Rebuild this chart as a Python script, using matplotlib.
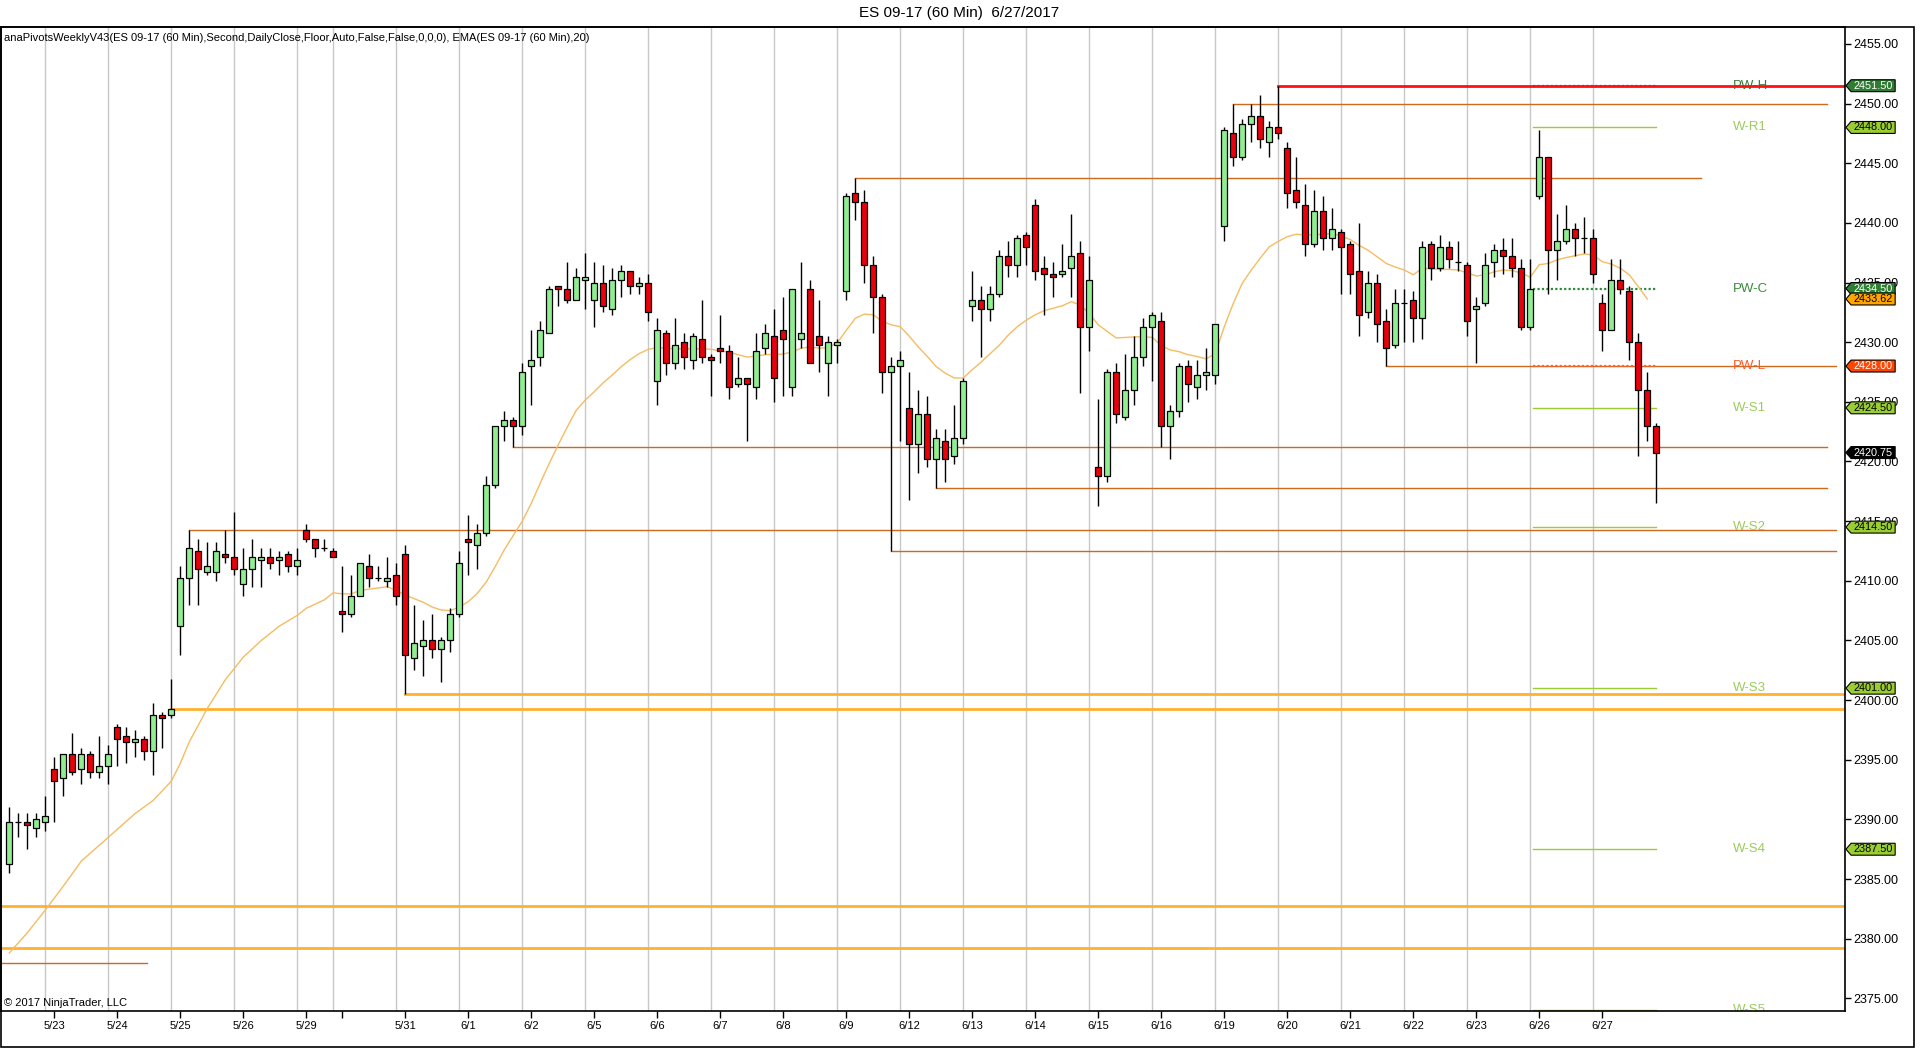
import matplotlib
matplotlib.use('Agg')
import matplotlib.pyplot as plt
from matplotlib.patches import Polygon, Rectangle
from matplotlib.transforms import blended_transform_factory

plt.rcParams['font.family'] = ['Liberation Sans', 'DejaVu Sans']

# ---- 60 min bars, ES 09-17 (bar index = position on the chart) ----
opens = [2386.25, 2389.75, 2389.75, 2389.25, 2389.75, 2394.25, 2393.5, 2395.5, 2394.25, 2395.5,
         2394.0, 2394.5, 2397.75, 2397.0, 2396.5, 2396.75, 2395.75, 2398.75, 2398.75, 2406.25,
         2410.25, 2412.5, 2410.75, 2410.75, 2412.25, 2412.0, 2409.75, 2411.0, 2411.75, 2412.0,
         2411.75, 2412.25, 2411.25, 2414.25, 2413.5, 2412.75, 2412.5, 2407.5, 2407.25, 2408.75,
         2411.25, 2410.25, 2410.0, 2410.5, 2412.25, 2403.5, 2404.5, 2405.0, 2404.25, 2405.0,
         2407.25, 2413.5, 2413.0, 2414.0, 2418.0, 2423.0, 2423.5, 2423.0, 2428.0, 2428.75,
         2430.75, 2434.75, 2434.5, 2433.5, 2435.25, 2433.5, 2435.0, 2432.75, 2435.25, 2436.0,
         2434.75, 2435.0, 2426.75, 2430.75, 2428.25, 2430.0, 2428.5, 2430.25, 2428.75, 2429.5,
         2429.25, 2426.5, 2427.0, 2426.25, 2429.5, 2430.5, 2431.0, 2426.25, 2430.25, 2434.5,
         2430.5, 2428.25, 2429.75, 2434.25, 2442.5, 2441.75, 2436.5, 2433.75, 2427.5, 2428.0,
         2424.5, 2421.5, 2424.0, 2420.25, 2421.75, 2420.5, 2422.0, 2433.0, 2433.5, 2432.75,
         2434.0, 2437.25, 2436.5, 2439.0, 2441.5, 2436.25, 2435.75, 2435.75, 2436.25, 2437.5,
         2431.25, 2419.5, 2418.75, 2427.5, 2423.75, 2426.0, 2428.75, 2431.25, 2431.75, 2423.0,
         2424.25, 2428.0, 2426.25, 2427.25, 2427.25, 2439.75, 2447.5, 2445.5, 2448.25, 2449.0,
         2446.75, 2448.0, 2446.25, 2442.75, 2441.5, 2438.25, 2441.0, 2438.75, 2439.25, 2438.25,
         2436.0, 2432.5, 2435.0, 2431.75, 2429.75, 2433.25, 2433.5, 2432.0, 2438.25, 2436.25,
         2438.0, 2436.75, 2436.5, 2432.75, 2433.25, 2436.75, 2437.75, 2437.25, 2436.25, 2431.25,
         2442.25, 2445.5, 2437.75, 2438.5, 2439.5, 2438.75, 2438.75, 2433.25, 2431.0, 2435.25,
         2434.25, 2430.0, 2426.0, 2423.0]
highs = [2391.0, 2390.5, 2390.5, 2390.5, 2392.0, 2395.25, 2395.5, 2397.25, 2396.0, 2395.75,
         2397.0, 2396.25, 2398.0, 2397.75, 2397.5, 2397.0, 2399.75, 2399.0, 2401.75, 2411.25,
         2414.25, 2413.5, 2413.25, 2413.25, 2414.25, 2415.75, 2412.75, 2413.5, 2412.75, 2412.75,
         2412.5, 2412.5, 2412.75, 2414.75, 2413.5, 2413.5, 2412.75, 2411.25, 2410.5, 2411.5,
         2412.25, 2411.25, 2412.0, 2411.5, 2413.0, 2408.0, 2406.75, 2407.25, 2405.25, 2407.75,
         2412.5, 2415.5, 2414.75, 2418.75, 2423.0, 2424.25, 2423.75, 2428.25, 2431.0, 2431.75,
         2434.75, 2434.75, 2436.75, 2436.25, 2437.5, 2436.75, 2436.5, 2436.25, 2436.5, 2436.0,
         2435.5, 2435.75, 2432.0, 2431.0, 2432.0, 2430.75, 2430.75, 2433.5, 2429.0, 2432.25,
         2429.75, 2428.75, 2427.0, 2430.75, 2431.5, 2432.75, 2433.75, 2432.25, 2436.75, 2435.25,
         2433.5, 2430.5, 2430.25, 2442.5, 2443.75, 2442.75, 2437.25, 2434.0, 2428.75, 2429.25,
         2427.5, 2426.0, 2425.5, 2422.75, 2422.75, 2424.75, 2427.0, 2436.0, 2434.75, 2434.75,
         2437.75, 2438.5, 2439.0, 2439.25, 2442.0, 2437.25, 2436.75, 2438.25, 2440.75, 2438.5,
         2437.25, 2425.25, 2427.75, 2428.25, 2429.0, 2430.5, 2432.0, 2432.5, 2432.5, 2424.75,
         2428.25, 2428.5, 2428.5, 2429.5, 2431.5, 2448.0, 2450.0, 2448.75, 2450.0, 2450.75,
         2448.5, 2451.5, 2446.75, 2445.5, 2443.25, 2442.75, 2442.25, 2441.25, 2439.5, 2438.5,
         2440.0, 2436.0, 2435.75, 2432.75, 2434.5, 2434.5, 2434.25, 2438.5, 2438.5, 2439.0,
         2438.5, 2438.5, 2436.75, 2433.75, 2437.5, 2438.25, 2438.75, 2438.75, 2437.0, 2437.0,
         2447.75, 2445.5, 2440.75, 2441.5, 2440.0, 2440.5, 2439.5, 2434.0, 2437.0, 2437.0,
         2434.75, 2430.75, 2427.5, 2423.25]
lows = [2385.5, 2388.5, 2387.5, 2388.5, 2389.0, 2389.75, 2392.0, 2393.75, 2393.0, 2393.5,
        2393.5, 2393.0, 2394.5, 2394.75, 2395.25, 2395.0, 2393.75, 2396.0, 2398.5, 2403.75,
        2408.0, 2408.0, 2410.5, 2410.0, 2411.5, 2410.5, 2408.75, 2409.5, 2409.5, 2411.0,
        2410.5, 2410.75, 2410.5, 2413.25, 2412.0, 2412.5, 2412.0, 2405.75, 2407.0, 2408.75,
        2409.5, 2410.0, 2409.5, 2408.0, 2400.5, 2402.5, 2402.0, 2403.5, 2401.5, 2404.0,
        2407.0, 2410.5, 2411.0, 2413.75, 2417.75, 2421.75, 2421.25, 2422.25, 2424.75, 2428.0,
        2430.75, 2433.0, 2433.25, 2433.5, 2432.75, 2431.25, 2432.5, 2432.25, 2433.75, 2434.0,
        2434.0, 2431.75, 2424.75, 2427.25, 2427.75, 2427.75, 2427.75, 2428.25, 2425.5, 2428.25,
        2425.25, 2426.25, 2421.75, 2425.25, 2429.0, 2425.0, 2425.5, 2425.5, 2429.5, 2429.5,
        2427.5, 2425.5, 2428.25, 2433.5, 2440.25, 2435.0, 2430.75, 2425.75, 2412.5, 2421.75,
        2416.75, 2419.0, 2419.5, 2417.75, 2418.25, 2419.75, 2421.5, 2431.75, 2428.75, 2431.75,
        2433.75, 2435.5, 2435.5, 2436.5, 2435.25, 2432.25, 2433.75, 2435.5, 2433.75, 2425.75,
        2429.25, 2416.25, 2418.25, 2423.25, 2423.5, 2424.75, 2428.0, 2426.75, 2421.25, 2420.25,
        2423.75, 2425.0, 2425.25, 2426.0, 2426.5, 2438.5, 2444.75, 2445.25, 2446.75, 2446.25,
        2445.5, 2447.0, 2441.25, 2441.25, 2437.25, 2438.0, 2437.75, 2437.75, 2434.0, 2434.0,
        2430.5, 2432.0, 2430.0, 2428.0, 2429.5, 2430.0, 2430.0, 2430.25, 2435.25, 2436.0,
        2436.25, 2436.0, 2430.5, 2428.25, 2433.0, 2435.5, 2435.75, 2435.5, 2431.0, 2431.0,
        2442.0, 2434.0, 2435.25, 2438.25, 2437.25, 2437.5, 2435.0, 2429.25, 2431.0, 2434.0,
        2428.5, 2420.5, 2421.75, 2416.5]
closes = [2389.75, 2389.75, 2389.5, 2390.0, 2390.25, 2393.25, 2395.5, 2394.0, 2395.5, 2394.0,
          2394.5, 2395.5, 2396.75, 2396.5, 2396.75, 2395.75, 2398.75, 2398.5, 2399.25, 2410.25,
          2412.75, 2411.0, 2411.25, 2412.5, 2412.0, 2411.0, 2411.0, 2412.0, 2412.0, 2411.5,
          2412.0, 2411.25, 2411.75, 2413.5, 2412.75, 2412.75, 2412.0, 2407.25, 2408.75, 2411.5,
          2410.25, 2410.25, 2410.25, 2408.75, 2403.75, 2404.75, 2405.0, 2404.25, 2405.0, 2407.25,
          2411.5, 2413.25, 2414.0, 2418.0, 2423.0, 2423.5, 2423.0, 2427.5, 2428.5, 2431.0,
          2434.5, 2434.5, 2433.5, 2435.5, 2435.5, 2435.0, 2433.0, 2435.25, 2436.0, 2434.75,
          2435.0, 2432.5, 2431.0, 2428.25, 2429.75, 2428.75, 2430.5, 2428.75, 2428.5, 2429.25,
          2426.25, 2427.0, 2426.5, 2429.25, 2430.75, 2427.0, 2430.25, 2434.5, 2430.75, 2428.25,
          2429.75, 2430.0, 2430.0, 2442.25, 2441.75, 2436.5, 2433.75, 2427.5, 2428.0, 2428.5,
          2421.5, 2424.0, 2420.25, 2422.0, 2420.25, 2422.0, 2426.75, 2433.5, 2432.75, 2434.0,
          2437.25, 2436.5, 2438.75, 2438.0, 2436.0, 2435.75, 2435.5, 2436.0, 2437.25, 2431.25,
          2435.25, 2418.75, 2427.5, 2424.0, 2426.0, 2428.75, 2431.25, 2432.25, 2423.0, 2424.25,
          2428.0, 2426.5, 2427.25, 2427.5, 2431.5, 2447.75, 2445.5, 2448.25, 2449.0, 2447.0,
          2448.0, 2447.5, 2442.5, 2441.75, 2438.25, 2441.0, 2438.75, 2439.5, 2438.0, 2435.75,
          2432.25, 2435.0, 2431.5, 2429.5, 2433.25, 2433.25, 2432.0, 2438.0, 2436.25, 2438.0,
          2437.0, 2436.75, 2431.75, 2433.0, 2436.5, 2437.75, 2437.25, 2436.25, 2431.25, 2434.5,
          2445.5, 2437.75, 2438.5, 2439.5, 2438.75, 2438.75, 2435.75, 2431.0, 2435.25, 2434.5,
          2430.0, 2426.0, 2423.0, 2420.75]

# EMA(20)
ema_idx = [0, 2, 4, 6, 8, 11, 14, 16, 18, 19, 20, 22, 24, 26, 28, 30, 32, 33, 35, 36,
           37, 38, 39, 40, 41, 42, 43, 44, 45, 46, 47, 48, 49, 50, 51, 52, 53, 54, 55, 56,
           57, 58, 59, 60, 61, 62, 63, 64, 65, 66, 67, 68, 69, 70, 71, 72, 73, 74, 75, 76,
           77, 78, 80, 82, 84, 86, 87, 88, 89, 90, 91, 92, 93, 94, 95, 96, 97, 98, 99, 100,
           101, 102, 103, 104, 105, 106, 107, 108, 109, 110, 111, 112, 113, 114, 115, 116, 117, 118, 119, 120,
           121, 122, 123, 124, 125, 126, 127, 128, 129, 130, 131, 132, 133, 134, 135, 136, 137, 138, 139, 140,
           141, 142, 143, 144, 145, 146, 147, 148, 149, 150, 151, 152, 153, 154, 155, 156, 157, 158, 159, 160,
           161, 162, 163, 164, 165, 166, 167, 168, 169, 170, 171, 172, 173, 174, 175, 176, 177, 178, 179, 180,
           181, 182]
ema_val = [2378.8, 2380.5, 2382.4, 2384.4, 2386.5, 2388.5, 2390.5, 2391.6, 2393.2, 2394.7,
           2396.5, 2399.3, 2401.7, 2403.6, 2405.0, 2406.2, 2407.1, 2407.7, 2408.4, 2409.0,
           2408.9, 2408.9, 2409.2, 2409.3, 2409.4, 2409.5, 2409.2, 2408.8, 2408.5, 2408.2,
           2407.8, 2407.55, 2407.5, 2407.8, 2408.25, 2408.95, 2409.9, 2411.2, 2412.6, 2413.8,
           2415.0, 2416.5, 2418.2, 2419.85, 2421.4, 2422.9, 2424.3, 2425.15, 2425.85, 2426.6,
           2427.25, 2427.95, 2428.55, 2429.05, 2429.4, 2429.55, 2429.5, 2429.45, 2429.45, 2429.45,
           2429.45, 2429.4, 2429.15, 2428.75, 2428.95, 2429.0, 2429.2, 2429.5, 2429.6, 2429.5,
           2429.55, 2429.95, 2431.0, 2432.0, 2432.35, 2432.3, 2431.75, 2431.45, 2431.3, 2430.5,
           2429.6, 2428.8, 2427.95, 2427.4, 2427.0, 2427.0, 2427.7, 2428.35, 2429.05, 2429.75,
           2430.6, 2431.3, 2431.85, 2432.3, 2432.65, 2432.85, 2433.05, 2433.4, 2433.1, 2432.4,
           2431.45, 2430.9, 2430.35, 2430.4, 2430.45, 2430.45, 2430.4, 2429.7, 2429.35, 2429.2,
           2428.95, 2428.8, 2428.6, 2429.05, 2431.3, 2433.25, 2434.95, 2436.05, 2437.05, 2438.0,
           2438.45, 2438.85, 2439.05, 2439.0, 2439.0, 2439.05, 2439.1, 2438.9, 2438.6, 2438.1,
           2437.7, 2437.15, 2436.6, 2436.3, 2436.05, 2435.65, 2436.2, 2436.15, 2436.1, 2436.1,
           2436.05, 2435.8, 2435.55, 2435.65, 2435.9, 2436.05, 2436.0, 2435.8, 2435.45, 2436.5,
           2436.6, 2436.9, 2437.1, 2437.25, 2437.4, 2437.3, 2436.75, 2436.55, 2436.2, 2435.65,
           2434.65, 2433.62]

# session breaks (vertical grid) and date ticks
session_breaks = [4, 11, 18, 25, 32, 36, 43, 50, 57, 64, 71, 78, 85, 92, 99, 106, 113, 120,
                  127, 134, 141, 148, 155, 162, 169, 176]
date_ticks = [5, 12, 19, 26, 33, 37, 44, 51, 58, 65, 72, 79, 86, 93, 100, 107, 114, 121,
              128, 135, 142, 149, 156, 163, 170, 177]
date_labels = ['5/23', '5/24', '5/25', '5/26', '5/29', '', '5/31', '6/1', '6/2', '6/5', '6/6',
               '6/7', '6/8', '6/9', '6/12', '6/13', '6/14', '6/15', '6/16', '6/19', '6/20',
               '6/21', '6/22', '6/23', '6/26', '6/27']

# thin brown levels: price, first bar, last bar
brown_price = [2450.0, 2443.75, 2428.0, 2421.25, 2417.75, 2414.25, 2412.5, 2378.0]
brown_from = [136, 94, 153, 56, 103, 20, 98, -2]
brown_to = [202, 188, 203, 202, 202, 203, 203, 15.3]
# thick orange levels
orange_price = [2400.5, 2399.25, 2382.75, 2379.25]
orange_from = [44, 18, -2, -2]
pwh_price = 2451.5
pwh_from = 141

# weekly pivots
pivot_names = ['PW-H', 'W-R1', 'PW-C', 'PW-L', 'W-S1', 'W-S2', 'W-S3', 'W-S4', 'W-S5']
pivot_values = [2451.5, 2448.0, 2434.5, 2428.0, 2424.5, 2414.5, 2401.0, 2387.5, 2374.0]
pivot_start = 169.3
pivot_end = 183

# price markers on the axis
tag_values = [2451.5, 2448.0, 2434.5, 2433.62, 2428.0, 2424.5, 2420.75, 2414.5, 2401.0, 2387.5]

dark_green = '#2E7D32'
light_green = '#9ACD32'
pivot_text_col = {'PW-H': '#3A7D3A', 'PW-C': '#3A8A3A', 'PW-L': '#FF5A2A'}
tag_style = {2451.5: (dark_green, 'white'), 2434.5: (dark_green, 'white'),
             2433.62: ('#FFA500', 'black'), 2428.0: ('#FF4500', 'white'),
             2420.75: ('black', 'white')}

W, H = 1920, 1055
AX_W = 1844
fig = plt.figure(figsize=(W / 100, H / 100), dpi=100)
ax = fig.add_axes([1 / W, 44 / H, AX_W / W, 984 / H])
ax.set_xlim(-0.92, (1 + AX_W - 9.3) / 9)
ax.set_ylim(2373.94, 2456.42)

for b in session_breaks:
    ax.axvline(b, color='#C8C8C8', lw=1.0, zorder=0)

# levels
for p, a, b in zip(brown_price, brown_from, brown_to):
    ax.plot([a, b], [p, p], color='#CD6A1F', lw=1.0, zorder=1)
for p, a in zip(orange_price, orange_from):
    ax.plot([a, 210], [p, p], color='#FFB12E', lw=2.0, zorder=1)

# pivots
for name, v in zip(pivot_names, pivot_values):
    if name == 'PW-C':
        ax.plot([pivot_start, pivot_end], [v, v], color='#2E8B3E', lw=1.6, ls=(0, (1, 1)), zorder=1)
    elif name == 'PW-L':
        ax.plot([pivot_start, pivot_end], [v, v], color='#FF6030', lw=1.6, ls=(0, (1, 1)), zorder=1)
    elif name == 'PW-H':
        ax.plot([pivot_start, pivot_end], [v, v], color='#A01010', lw=1.6, ls=(0, (1, 1)), zorder=1)
    else:
        ax.plot([pivot_start, pivot_end], [v, v], color=light_green, lw=1.0, zorder=1)
    ax.text(191.5, v, name, color=pivot_text_col.get(name, '#9CCB5E'), fontsize=9.5,
            ha='left', va='center', zorder=1, clip_on=True)

ax.plot([pwh_from, 210], [pwh_price, pwh_price], color='#FF1010', lw=2.0, zorder=1.5)

# EMA
ax.plot(ema_idx, ema_val, color='#F5BC62', lw=1.0, zorder=1.8)

# candles
idx = list(range(len(opens)))
ax.vlines(idx, lows, highs, color='black', lw=1.0, zorder=2)
bottoms = [min(o, c) for o, c in zip(opens, closes)]
heights = [abs(c - o) for o, c in zip(opens, closes)]
colors = ['#90EE90' if c >= o else '#E8000B' for o, c in zip(opens, closes)]
ax.bar(idx, heights, bottom=bottoms, width=0.7, color=colors, edgecolor='black',
       linewidth=0.9, zorder=3)

# axes styling
for s in ax.spines.values():
    s.set_color('black')
    s.set_linewidth(1.2)
ax.yaxis.tick_right()
ax.set_yticks([2375 + 5 * k for k in range(17)])
ax.set_yticklabels(['%.2f' % (2375 + 5 * k) for k in range(17)])
ax.tick_params(axis='y', direction='out', length=4, width=1, pad=2, labelsize=9)
ax.set_xticks(date_ticks)
ax.set_xticklabels(date_labels)
ax.tick_params(axis='x', direction='out', length=5, width=1, pad=2, labelsize=8)

# price tags at the right axis
tr = blended_transform_factory(ax.transAxes, ax.transData)
tip, notch, right = 1.0005, 1.0033, 1.0272
for v in tag_values:
    bg, fg = tag_style.get(v, (light_green, 'black'))
    hh = 0.5
    poly = Polygon([(tip, v), (notch, v + hh), (right, v + hh), (right, v - hh), (notch, v - hh)],
                   closed=True, facecolor=bg, edgecolor='black', lw=0.8, transform=tr,
                   clip_on=False, zorder=6)
    ax.add_patch(poly)
    ax.text((notch + right) / 2, v, '%.2f' % v, color=fg, fontsize=7.8, ha='center',
            va='center', transform=tr, clip_on=False, zorder=7)

ax.text(3 / AX_W, 1 - 11 / 984,
        'anaPivotsWeeklyV43(ES 09-17 (60 Min),Second,DailyClose,Floor,Auto,False,False,0,0,0), '
        'EMA(ES 09-17 (60 Min),20)',
        transform=ax.transAxes, fontsize=8, ha='left', va='center', zorder=8)
ax.text(3 / AX_W, 8 / 984, '\u00a9 2017 NinjaTrader, LLC', transform=ax.transAxes,
        fontsize=8, ha='left', va='center', zorder=8)

fig.text(959 / W, 1 - 13 / H, 'ES 09-17 (60 Min)  6/27/2017', ha='center', va='center',
         fontsize=11)

frame = Rectangle((0.5 / W, 8 / H), 1913 / W, (1028 - 8) / H, transform=fig.transFigure,
                  fill=False, edgecolor='black', lw=1.2)
fig.patches.append(frame)

fig.savefig('out.png', dpi=100, facecolor='white')
